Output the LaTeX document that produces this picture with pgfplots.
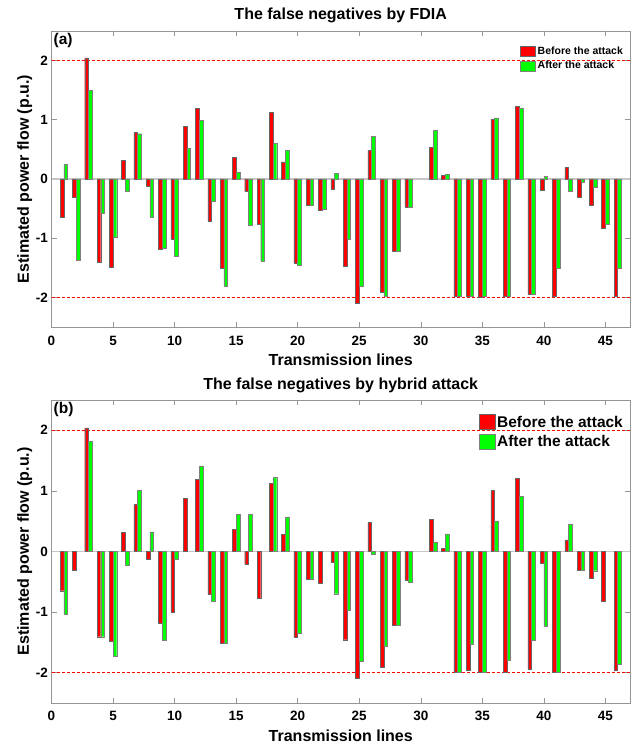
\documentclass[border=0pt]{standalone}
\usepackage{fontspec}
\setmainfont{Liberation Sans}
\usepackage{pgfplots}
\pgfplotsset{compat=1.18}
\definecolor{barred}{RGB}{255,0,0}
\definecolor{bargreen}{RGB}{0,255,0}
\definecolor{axgray}{RGB}{150,150,150}
\newcommand\fs[1]{\fontsize{#1}{#1}\selectfont\bfseries}
\pgfplotsset{
  panel/.style={
    scale only axis,
    width=578.5pt,
    xmin=0, xmax=47, ymin=-2.5, ymax=2.5,
    xtick={0,5,...,45}, ytick={-2,-1,0,1,2},
    /pgf/number format/assume math mode=true,
    ticklabel style={font=\fs{13.5}},
    xticklabel style={yshift=-5pt},
    tick align=inside,
    major tick length=5pt,
    axis line style={axgray},
    every tick/.style={axgray, line width=0.5pt},
    xlabel={Transmission lines},
    ylabel={Estimated power flow (p.u.)},
    xlabel style={font=\fs{16}, yshift=-2pt},
    ylabel style={font=\fs{16}, yshift=-3pt},
    title style={font=\fs{16}, yshift=-2pt},
    legend cell align=left,
  },
  redbar/.style={ybar, bar width=0.3, bar shift=-0.15, fill=barred, draw=black!60, line width=0.4pt},
  greenbar/.style={ybar, bar width=0.3, bar shift=0.15, fill=bargreen, draw=black!50, line width=0.4pt},
  refline/.style={forget plot, color=barred, line width=0.8pt, dash pattern=on 3pt off 2pt},
}
\begin{document}
\begin{tikzpicture}
\useasboundingbox (0,0) rectangle (638pt,-744pt);
% ---------------- Panel (a)
\begin{axis}[panel, at={(51.5pt,-30.7pt)}, anchor=north west, height=296.6pt,
  title={The false negatives by FDIA},
  legend image code/.code={\draw[#1] (0pt,-5pt) rectangle (15pt,5pt);},
  legend style={at={(0.9915,0.952)}, anchor=north east, draw=none, fill=none,
    font=\fs{10.5}, inner sep=0pt, row sep=1pt},
]
\addplot[forget plot, gray!45, line width=1.2pt] coordinates {(0,0) (47,0)};
\addplot[refline] coordinates {(0,2) (47,2)};
\addplot[refline] coordinates {(0,-2) (47,-2)};
\addplot[redbar] coordinates {
(1,-0.65) (2,-0.31) (3,2.04) (4,-1.41) (5,-1.48) (6,0.32) (7,0.785) (8,-0.12) (9,-1.18) (10,-1.01)
(11,0.89) (12,1.19) (13,-0.71) (14,-1.51) (15,0.36) (16,-0.21) (17,-0.77) (18,1.12) (19,0.29) (20,-1.42)
(21,-0.45) (22,-0.52) (23,-0.18) (24,-1.465) (25,-2.09) (26,0.485) (27,-1.91) (28,-1.21) (29,-0.47)
(31,0.535) (32,0.067) (33,-1.98) (34,-1.97) (35,-1.99) (36,1.01) (37,-1.98) (38,1.22) (39,-1.94) (40,-0.195)
(41,-1.98) (42,0.195) (43,-0.31) (44,-0.44) (45,-0.83) (46,-1.97)};
\addplot[greenbar] coordinates {
(1,0.245) (2,-1.365) (3,1.50) (4,-0.57) (5,-0.98) (6,-0.21) (7,0.763) (8,-0.646) (9,-1.16) (10,-1.30)
(11,0.52) (12,0.99) (13,-0.37) (14,-1.80) (15,0.12) (16,-0.78) (17,-1.38) (18,0.60) (19,0.485) (20,-1.45)
(21,-0.45) (22,-0.51) (23,0.095) (24,-1.01) (25,-1.81) (26,0.72) (27,-1.98) (28,-1.21) (29,-0.47)
(31,0.82) (32,0.084) (33,-1.97) (34,-1.97) (35,-1.98) (36,1.03) (37,-1.97) (38,1.20) (39,-1.94) (40,0.04)
(41,-1.51) (42,-0.20) (43,-0.056) (44,-0.14) (45,-0.76) (46,-1.51)};
\legend{Before the attack, After the attack}
\node[anchor=north west, font=\fs{15.5}, inner sep=2pt] at (rel axis cs:0,1) {(a)};
\end{axis}
% ---------------- Panel (b)
\begin{axis}[panel, at={(51.5pt,-400pt)}, anchor=north west, height=302.7pt,
  title={The false negatives by hybrid attack},
  legend image code/.code={\draw[#1] (0pt,-7.5pt) rectangle (16pt,7.5pt);},
  legend style={at={(0.9915,0.955)}, anchor=north east, draw=none, fill=none,
    font=\fs{15.5}, inner sep=0pt, row sep=3pt},
]
\addplot[forget plot, gray!45, line width=1.2pt] coordinates {(0,0) (47,0)};
\addplot[refline] coordinates {(0,2) (47,2)};
\addplot[refline] coordinates {(0,-2) (47,-2)};
\addplot[redbar] coordinates {
(1,-0.65) (2,-0.31) (3,2.04) (4,-1.41) (5,-1.48) (6,0.31) (7,0.78) (8,-0.13) (9,-1.19) (10,-1.01)
(11,0.88) (12,1.19) (13,-0.71) (14,-1.52) (15,0.36) (16,-0.21) (17,-0.78) (18,1.12) (19,0.28) (20,-1.42)
(21,-0.455) (22,-0.52) (23,-0.175) (24,-1.46) (25,-2.09) (26,0.48) (27,-1.91) (28,-1.22) (29,-0.47)
(31,0.53) (32,0.055) (33,-1.99) (34,-1.96) (35,-1.99) (36,1.005) (37,-1.99) (38,1.21) (39,-1.94) (40,-0.19)
(41,-1.99) (42,0.19) (43,-0.31) (44,-0.44) (45,-0.83) (46,-1.96)};
\addplot[greenbar] coordinates {
(1,-1.04) (3,1.82) (4,-1.41) (5,-1.73) (6,-0.23) (7,1.01) (8,0.32) (9,-1.47) (10,-0.13)
(12,1.41) (13,-0.82) (14,-1.52) (15,0.615) (16,0.615) (18,1.22) (19,0.57) (20,-1.345)
(21,-0.455) (23,-0.70) (24,-0.97) (25,-1.81) (26,-0.04) (27,-1.56) (28,-1.22) (29,-0.505)
(31,0.155) (32,0.29) (33,-1.99) (34,-1.53) (35,-1.99) (36,0.49) (37,-1.80) (38,0.905) (39,-1.47) (40,-1.24)
(41,-1.99) (42,0.445) (43,-0.31) (44,-0.32) (46,-1.86)};
\legend{Before the attack, After the attack}
\node[anchor=north west, font=\fs{15.5}, inner sep=2pt] at (rel axis cs:0,1) {(b)};
\end{axis}
\end{tikzpicture}
\end{document}
